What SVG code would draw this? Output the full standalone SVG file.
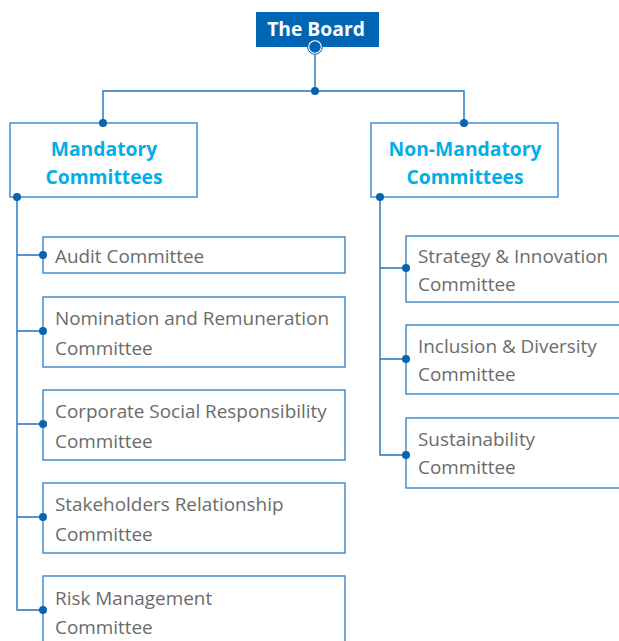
<svg xmlns="http://www.w3.org/2000/svg" width="619" height="641" viewBox="0 0 619 641">
<style>
.box{fill:#fff;stroke:#2b7bc4;stroke-width:1.3}
.ln{fill:none;stroke:#1f72bd;stroke-width:1.4}
.dot{fill:#0863b0}
.hd{font-family:"Open Sans",sans-serif;font-weight:700;font-size:19.3px;fill:#00aee8;text-anchor:middle}
.tx{font-family:"Open Sans",sans-serif;font-size:18.9px;fill:#6b6b6b}
</style>
<rect width="619" height="641" fill="#fff"/>
<g id="board">
<rect x="256" y="12" width="123" height="35" fill="#0066b3"/>
<text x="316" y="36" font-family="Open Sans, sans-serif" font-weight="700" font-size="19.3" fill="#fff" text-anchor="middle">The Board</text>
</g>
<g id="mandatory">
<rect class="box" x="10" y="123" width="187" height="74"/>
<text class="hd" x="104" y="156">Mandatory</text>
<text class="hd" x="104" y="184">Committees</text>
</g>
<g id="nonmandatory">
<rect class="box" x="371" y="123" width="187" height="74"/>
<text class="hd" x="465" y="156">Non-Mandatory</text>
<text class="hd" x="465" y="184">Committees</text>
</g>
<g id="audit">
<rect class="box" x="43" y="237" width="302" height="36"/>
<text class="tx" x="55" y="263">Audit Committee</text>
</g>
<g id="nomination">
<rect class="box" x="43" y="297" width="302" height="70"/>
<text class="tx" x="55" y="325">Nomination and Remuneration</text>
<text class="tx" x="55" y="355">Committee</text>
</g>
<g id="csr">
<rect class="box" x="43" y="390" width="302" height="70"/>
<text class="tx" x="55" y="418">Corporate Social Responsibility</text>
<text class="tx" x="55" y="448">Committee</text>
</g>
<g id="stakeholders">
<rect class="box" x="43" y="483" width="302" height="70"/>
<text class="tx" x="55" y="511">Stakeholders Relationship</text>
<text class="tx" x="55" y="541">Committee</text>
</g>
<g id="risk">
<rect class="box" x="43" y="576" width="302" height="80"/>
<text class="tx" x="55" y="605">Risk Management</text>
<text class="tx" x="55" y="634">Committee</text>
</g>
<g id="strategy">
<rect class="box" x="406" y="236" width="230" height="66"/>
<text class="tx" x="418" y="263">Strategy &amp; Innovation</text>
<text class="tx" x="418" y="291">Committee</text>
</g>
<g id="inclusion">
<rect class="box" x="406" y="325" width="230" height="69"/>
<text class="tx" x="418" y="353">Inclusion &amp; Diversity</text>
<text class="tx" x="418" y="381">Committee</text>
</g>
<g id="sustainability">
<rect class="box" x="406" y="418" width="230" height="70"/>
<text class="tx" x="418" y="446">Sustainability</text>
<text class="tx" x="418" y="474">Committee</text>
</g>
<g id="connectors">
<path class="ln" d="M315 53V91M103 123V91H464V123"/>
<path class="ln" d="M17 197V610H43M17 255H43M17 331H43M17 424H43M17 517H43"/>
<path class="ln" d="M380 197V455H406M380 268H406M380 359H406"/>
<circle cx="315" cy="47" r="6.5" fill="#0066b3" stroke="#fff" stroke-width="1.5"/>
<circle cx="315" cy="47" r="7.3" fill="none" stroke="#0066b3" stroke-width="1"/>
<circle class="dot" cx="315" cy="91" r="4"/>
<circle class="dot" cx="103" cy="123" r="4"/>
<circle class="dot" cx="464" cy="123" r="4"/>
<circle class="dot" cx="17" cy="197" r="4"/>
<circle class="dot" cx="380" cy="197" r="4"/>
<circle class="dot" cx="43" cy="255" r="4"/>
<circle class="dot" cx="43" cy="331" r="4"/>
<circle class="dot" cx="43" cy="424" r="4"/>
<circle class="dot" cx="43" cy="517" r="4"/>
<circle class="dot" cx="43" cy="610" r="4"/>
<circle class="dot" cx="406" cy="268" r="4"/>
<circle class="dot" cx="406" cy="359" r="4"/>
<circle class="dot" cx="406" cy="455" r="4"/>
</g>
</svg>
